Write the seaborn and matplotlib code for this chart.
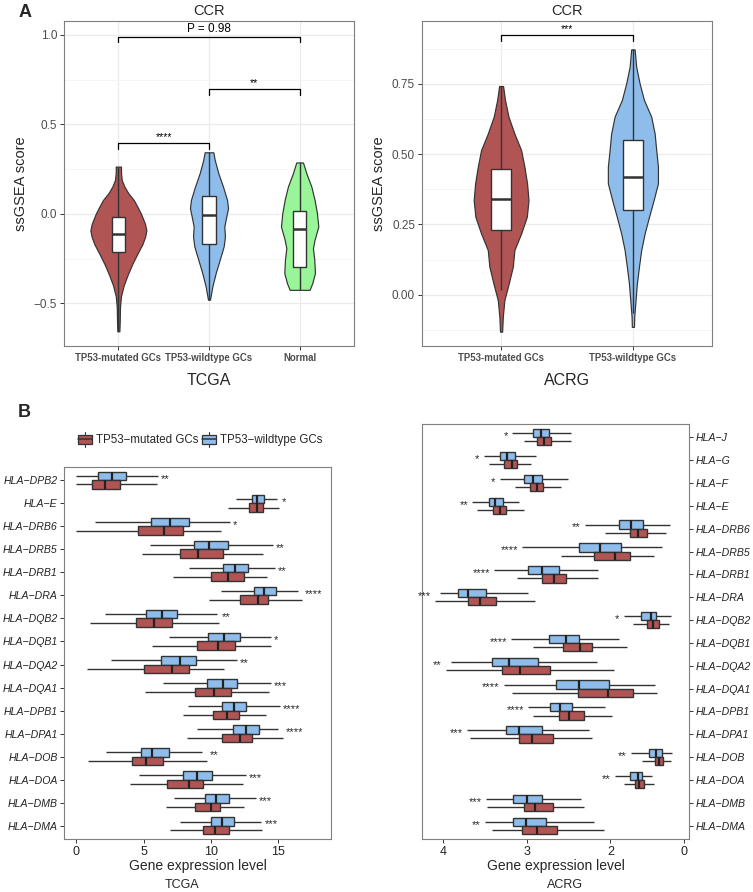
import numpy as np
import pandas as pd
import matplotlib
matplotlib.use("Agg")
import matplotlib.pyplot as plt
import seaborn as sns
from matplotlib.legend_handler import HandlerBase
from matplotlib.patches import Rectangle
from matplotlib.lines import Line2D
from matplotlib.ticker import MultipleLocator

#---------------------------------------------------
#   data
#---------------------------------------------------
MUT = "TP53-mutated GCs"
WT = "TP53-wildtype GCs"
NORMAL = "Normal"

tcga_groups = [MUT, WT, NORMAL]
acrg_groups = [MUT, WT]

# five-number summaries (min, q1, median, q3, max) of the CCR ssGSEA score
tcga_ccr_mut = [-0.657, -0.214, -0.114, -0.020, 0.264]
tcga_ccr_wt = [-0.480, -0.169, -0.006, 0.097, 0.344]
tcga_ccr_normal = [-0.425, -0.298, -0.084, 0.013, 0.287]
acrg_ccr_mut = [0.017, 0.232, 0.339, 0.448, 0.742]
acrg_ccr_wt = [-0.066, 0.300, 0.419, 0.550, 0.872]

# violin outlines: score levels and half widths (category units)
tcga_mut_lvl = [0.264, 0.23, 0.19, 0.153, 0.115, 0.078, 0.037, 0.0, -0.056, -0.093,
                -0.13, -0.17, -0.22, -0.28, -0.34, -0.40, -0.46, -0.52, -0.60, -0.657]
tcga_mut_dens = [0.029, 0.029, 0.037, 0.066, 0.110, 0.169, 0.213, 0.250, 0.294, 0.309,
                 0.294, 0.265, 0.213, 0.154, 0.103, 0.059, 0.029, 0.018, 0.015, 0.011]
tcga_wt_lvl = [0.344, 0.302, 0.227, 0.153, 0.078, 0.032, -0.015, -0.071, -0.127, -0.182,
               -0.257, -0.331, -0.406, -0.48]
tcga_wt_dens = [0.048, 0.063, 0.103, 0.154, 0.199, 0.210, 0.191, 0.169, 0.176, 0.162,
                0.118, 0.074, 0.037, 0.011]
tcga_normal_lvl = [0.287, 0.227, 0.153, 0.078, 0.004, -0.071, -0.145, -0.192, -0.257,
                   -0.331, -0.387, -0.425]
tcga_normal_dens = [0.037, 0.074, 0.129, 0.165, 0.191, 0.206, 0.165, 0.147, 0.162,
                    0.169, 0.140, 0.110]
acrg_mut_lvl = [0.742, 0.692, 0.633, 0.573, 0.514, 0.455, 0.396, 0.336, 0.277, 0.218,
                0.159, 0.10, 0.04, -0.019, -0.078, -0.131]
acrg_mut_dens = [0.015, 0.030, 0.056, 0.101, 0.152, 0.177, 0.197, 0.208, 0.195, 0.152,
                 0.101, 0.089, 0.058, 0.025, 0.013, 0.008]
acrg_wt_lvl = [0.872, 0.81, 0.751, 0.692, 0.633, 0.573, 0.514, 0.455, 0.396, 0.336,
               0.277, 0.218, 0.159, 0.10, 0.04, -0.019, -0.078, -0.114]
acrg_wt_dens = [0.013, 0.025, 0.051, 0.084, 0.139, 0.165, 0.177, 0.190, 0.190, 0.157,
                0.122, 0.089, 0.063, 0.046, 0.030, 0.020, 0.010, 0.008]

# (group a, group b, bracket height, label)
tcga_tests = [(0, 2, 0.99, "P = 0.98"), (1, 2, 0.696, "**"), (0, 1, 0.395, "****")]
acrg_tests = [(0, 1, 0.923, "***")]

# HLA genes, five-number summaries of expression
tcga_genes = ["HLA-DPB2", "HLA-E", "HLA-DRB6", "HLA-DRB5", "HLA-DRB1", "HLA-DRA",
              "HLA-DQB2", "HLA-DQB1", "HLA-DQA2", "HLA-DQA1", "HLA-DPB1", "HLA-DPA1",
              "HLA-DOB", "HLA-DOA", "HLA-DMB", "HLA-DMA"]
tcga_wt = [[0.0, 1.64, 2.63, 3.67, 6.05], [11.89, 13.03, 13.4, 13.95, 14.94],
           [1.41, 5.58, 6.95, 8.39, 11.39], [5.46, 8.76, 9.85, 11.27, 14.59],
           [8.39, 10.92, 11.81, 12.73, 14.76], [10.77, 13.18, 13.97, 14.86, 16.45],
           [2.13, 5.21, 6.38, 7.44, 10.47], [6.87, 9.75, 10.97, 12.13, 14.47],
           [2.56, 6.28, 7.69, 8.88, 11.91], [6.45, 9.68, 10.87, 11.91, 14.49],
           [8.31, 10.79, 11.71, 12.58, 15.11], [8.93, 11.66, 12.58, 13.55, 15.01],
           [2.23, 4.79, 5.61, 6.90, 9.33], [4.64, 7.89, 8.96, 10.07, 12.58],
           [7.25, 9.58, 10.37, 11.34, 13.35], [7.72, 10.0, 10.79, 11.74, 13.72]]
tcga_mut = [[0.0, 1.19, 2.16, 3.23, 6.0], [11.3, 12.8, 13.4, 13.85, 15.04],
            [0.0, 4.57, 6.5, 7.94, 10.77], [4.84, 7.69, 9.03, 10.92, 13.87],
            [7.17, 10.0, 11.24, 12.43, 14.19], [9.88, 12.18, 13.47, 14.27, 16.75],
            [1.02, 4.44, 5.76, 7.07, 10.57], [5.63, 8.98, 10.55, 11.76, 14.47],
            [0.82, 5.01, 7.07, 8.34, 10.99], [5.11, 8.78, 10.2, 11.51, 14.34],
            [7.94, 10.12, 11.17, 12.06, 14.07], [8.24, 10.82, 12.16, 13.03, 15.33],
            [0.87, 4.14, 5.21, 6.40, 9.68], [3.97, 6.75, 8.39, 9.43, 12.38],
            [6.65, 8.83, 9.98, 10.69, 12.43], [6.92, 9.43, 10.3, 11.32, 13.82]]
tcga_sig = ["**", "*", "*", "**", "**", "****", "**", "*", "**", "***", "****", "****",
            "**", "***", "***", "***"]

acrg_genes = ["HLA-J", "HLA-G", "HLA-F", "HLA-E", "HLA-DRB6", "HLA-DRB5", "HLA-DRB1",
              "HLA-DRA", "HLA-DQB2", "HLA-DQB1", "HLA-DQA2", "HLA-DQA1", "HLA-DPB1",
              "HLA-DPA1", "HLA-DOB", "HLA-DOA", "HLA-DMB", "HLA-DMA"]
acrg_wt = [[2.467, 2.739, 2.826, 2.926, 3.174], [2.886, 3.138, 3.238, 3.321, 3.517],
           [2.511, 2.818, 2.926, 3.034, 3.325], [3.094, 3.285, 3.385, 3.453, 3.653],
           [1.281, 1.609, 1.749, 1.896, 2.307], [1.377, 1.876, 2.128, 2.375, 3.054],
           [2.148, 2.615, 2.814, 2.990, 3.393], [2.990, 3.485, 3.701, 3.820, 4.036],
           [1.269, 1.457, 1.517, 1.629, 1.840], [1.896, 2.375, 2.527, 2.735, 3.186],
           [2.156, 2.866, 3.214, 3.417, 3.912], [1.469, 2.016, 2.375, 2.647, 3.277],
           [2.060, 2.459, 2.603, 2.727, 2.986], [2.255, 2.822, 3.098, 3.246, 3.721],
           [1.257, 1.381, 1.449, 1.537, 1.756], [1.497, 1.621, 1.669, 1.760, 1.948],
           [2.355, 2.814, 2.998, 3.166, 3.493], [2.196, 2.774, 3.006, 3.162, 3.505]]
acrg_mut = [[2.467, 2.707, 2.798, 2.878, 3.038], [2.950, 3.118, 3.174, 3.269, 3.453],
            [2.591, 2.806, 2.882, 2.958, 3.142], [3.030, 3.249, 3.325, 3.409, 3.597],
            [1.337, 1.561, 1.665, 1.768, 2.064], [1.477, 1.768, 1.940, 2.196, 2.595],
            [2.144, 2.527, 2.679, 2.822, 3.118], [2.898, 3.365, 3.565, 3.701, 4.104],
            [1.301, 1.417, 1.485, 1.557, 1.729], [1.800, 2.216, 2.359, 2.567, 2.926],
            [1.956, 2.727, 3.086, 3.293, 3.972], [1.437, 1.725, 2.028, 2.387, 3.174],
            [1.976, 2.319, 2.499, 2.615, 2.926], [2.216, 2.691, 2.938, 3.098, 3.685],
            [1.273, 1.369, 1.417, 1.469, 1.617], [1.481, 1.597, 1.657, 1.709, 1.836],
            [2.311, 2.687, 2.898, 3.030, 3.477], [2.076, 2.635, 2.878, 3.062, 3.413]]
acrg_sig = ["*", "*", "*", "**", "**", "****", "****", "***", "*", "****", "**", "****",
            "****", "***", "**", "**", "***", "**"]

acrg_ticks = [4, 3, 2, 1.118]
acrg_ticklabels = ["4", "3", "2", "0"]

colors = {MUT: "#B05454", WT: "#8FBDEB", NORMAL: "#98F598"}
EDGE = "#333333"

#---------------------------------------------------
#   style
#---------------------------------------------------
sns.set_theme(style="white")
plt.rcParams['font.family'] = ['Liberation Sans', 'DejaVu Sans']
plt.rcParams['axes.edgecolor'] = "#7F7F7F"
plt.rcParams['axes.linewidth'] = 0.8

W, H = 753, 892
fig = plt.figure(figsize=(W / 100, H / 100), dpi=100)


def px_axes(left, top, right, bottom):
    return fig.add_axes([left / W, 1 - bottom / H, (right - left) / W, (bottom - top) / H])


#---------------------------------------------------
#   violin + box panels (A)
#---------------------------------------------------
def violin_panel(ax, groups, boxes, shapes, tests, ylim, major, xlabel):
    df = pd.DataFrame({"group": np.repeat(groups, 5),
                       "score": np.concatenate(boxes)})
    sns.boxplot(data=df, x="group", y="score", order=groups, color="white",
                width=0.15, whis=(0, 100), showcaps=False, showfliers=False,
                linecolor=EDGE, linewidth=1.0, saturation=1,
                boxprops={"zorder": 3}, whiskerprops={"zorder": 3},
                medianprops={"zorder": 4, "linewidth": 1.8, "color": EDGE}, ax=ax)
    for i, (lvl, dens) in enumerate(shapes):
        lvl = np.asarray(lvl)
        dens = np.asarray(dens)
        ax.fill_betweenx(lvl, i - dens, i + dens, facecolor=colors[groups[i]],
                         edgecolor=EDGE, linewidth=0.85, zorder=2)
    span = ylim[1] - ylim[0]
    for a, b, yb, lab in tests:
        leg = span * 0.017
        ax.plot([a, a, b, b], [yb - leg, yb, yb, yb - leg], color="black", lw=0.9, zorder=5)
        fs = 8.5 if lab.startswith("P") else 7.5
        ax.text((a + b) / 2, yb + span * 0.004, lab, ha="center", va="bottom",
                fontsize=fs, color="black")
    ax.set_xlim(-0.6, len(groups) - 0.4)
    ax.set_ylim(*ylim)
    ax.yaxis.set_major_locator(MultipleLocator(major))
    ax.yaxis.set_minor_locator(MultipleLocator(major / 2))
    ax.grid(True, which="major", color="#EBEBEB", lw=0.9)
    ax.grid(True, which="minor", axis="y", color="#F4F4F4", lw=0.6)
    ax.set_axisbelow(True)
    ax.tick_params(which="major", length=3, width=0.7, color=EDGE, bottom=True, left=True,
                   labelsize=8.5, labelcolor="#4D4D4D", pad=2)
    ax.tick_params(which="minor", length=0)
    for t in ax.get_xticklabels():
        t.set_fontweight("bold")
        t.set_fontsize(6.9)
    ax.set_title("CCR", fontsize=10.5, pad=4)
    ax.set_ylabel("ssGSEA score", fontsize=10.5, labelpad=4)
    ax.set_xlabel(xlabel, fontsize=11.5, labelpad=7)


ax1 = px_axes(64, 21, 354, 346)
violin_panel(ax1, tcga_groups, [tcga_ccr_mut, tcga_ccr_wt, tcga_ccr_normal],
             [(tcga_mut_lvl, tcga_mut_dens), (tcga_wt_lvl, tcga_wt_dens),
              (tcga_normal_lvl, tcga_normal_dens)],
             tcga_tests, (-0.739, 1.078), 0.5, "TCGA")
ax1.yaxis.set_major_formatter(matplotlib.ticker.FuncFormatter(
    lambda v, p: f"{v:.1f}".replace("-", "\u2212")))

ax2 = px_axes(422, 21, 712, 346)
violin_panel(ax2, acrg_groups, [acrg_ccr_mut, acrg_ccr_wt],
             [(acrg_mut_lvl, acrg_mut_dens), (acrg_wt_lvl, acrg_wt_dens)],
             acrg_tests, (-0.182, 0.973), 0.25, "ACRG")
ax2.yaxis.set_major_formatter(matplotlib.ticker.FuncFormatter(lambda v, p: f"{v:.2f}"))


#---------------------------------------------------
#   HLA boxplots (B)
#---------------------------------------------------
def hla_panel(ax, genes, wt, mut, sig, right=False):
    rows = []
    for g, w, m in zip(genes, wt, mut):
        for v in w:
            rows.append((g, WT, v))
        for v in m:
            rows.append((g, MUT, v))
    df = pd.DataFrame(rows, columns=["gene", "group", "value"])
    sns.boxplot(data=df, x="value", y="gene", hue="group", order=genes,
                hue_order=[WT, MUT], palette=colors, orient="h", width=0.72, gap=0,
                whis=(0, 100), showcaps=False, showfliers=False, saturation=1,
                linecolor=EDGE, linewidth=1.0,
                medianprops={"linewidth": 1.6, "color": "#222222"},
                legend=False, ax=ax)
    for i, s in enumerate(sig):
        top = max(wt[i][4], mut[i][4])
        if right:
            ax.text(top + 0.05, i - 0.05, s, ha="right", va="center", fontsize=8)
        else:
            ax.text(top + 0.2, i - 0.05, s, ha="left", va="center", fontsize=8)
    ax.set_ylim(len(genes) - 1 + 0.58, -0.58)
    ax.set_ylabel("")
    ax.set_xlabel("Gene expression level", fontsize=10, labelpad=1)
    ax.tick_params(length=3, width=0.7, color=EDGE, bottom=True, labelsize=9,
                   labelcolor="#222222", pad=2)
    ax.set_yticks(range(len(genes)))
    ax.set_yticklabels([g.replace("-", "\u2212") for g in genes], fontsize=7.6,
                       fontstyle="italic")
    ax.grid(False)


ax3 = px_axes(64, 467, 331, 839)
hla_panel(ax3, tcga_genes, tcga_wt, tcga_mut, tcga_sig)
ax3.set_xlim(-0.92, 18.92)
ax3.set_xticks([0, 5, 10, 15])
ax3.tick_params(axis="y", left=True, pad=1.5)

ax4 = px_axes(422, 424, 689, 839)
hla_panel(ax4, acrg_genes, acrg_wt, acrg_mut, acrg_sig, right=True)
ax4.set_xlim(4.255, 1.058)
ax4.set_xticks(acrg_ticks)
ax4.set_xticklabels(acrg_ticklabels)
ax4.yaxis.tick_right()
ax4.tick_params(axis="y", right=True, left=False, pad=1.5)


# legend with boxplot-like keys
class BoxKey(HandlerBase):
    def create_artists(self, legend, orig_handle, xdescent, ydescent, width, height,
                       fontsize, trans):
        x0, y0 = -xdescent, -ydescent
        fc = orig_handle.get_facecolor()
        rect = Rectangle((x0, y0 + 0.1 * height), width, 0.8 * height, facecolor=fc,
                         edgecolor=EDGE, lw=0.9, transform=trans)
        mid = Line2D([x0, x0 + width], [y0 + 0.5 * height] * 2, color=EDGE, lw=1.1,
                     transform=trans)
        up = Line2D([x0 + width / 2] * 2, [y0 + 0.9 * height, y0 + 1.15 * height],
                    color=EDGE, lw=0.8, transform=trans)
        dn = Line2D([x0 + width / 2] * 2, [y0 - 0.15 * height, y0 + 0.1 * height],
                    color=EDGE, lw=0.8, transform=trans)
        return [rect, mid, up, dn]


handles = [Rectangle((0, 0), 1, 1, facecolor=colors[MUT]),
           Rectangle((0, 0), 1, 1, facecolor=colors[WT])]
fig.legend(handles, ["TP53\u2212mutated GCs", "TP53\u2212wildtype GCs"],
           handler_map={Rectangle: BoxKey()}, loc="center",
           bbox_to_anchor=(200 / W, 1 - 440 / H), ncol=2, frameon=False, fontsize=8.3,
           handlelength=1.25, handleheight=1.1, handletextpad=0.3, columnspacing=0.3)

fig.text(182 / W, 1 - 885 / H, "TCGA", ha="center", va="center", fontsize=9)
fig.text(565 / W, 1 - 885 / H, "ACRG", ha="center", va="center", fontsize=9)
fig.text(19 / W, 1 - 4 / H, "A", fontsize=13, fontweight="bold", va="top")
fig.text(18 / W, 1 - 404 / H, "B", fontsize=13, fontweight="bold", va="top")

plt.savefig("out.png", dpi=100)
